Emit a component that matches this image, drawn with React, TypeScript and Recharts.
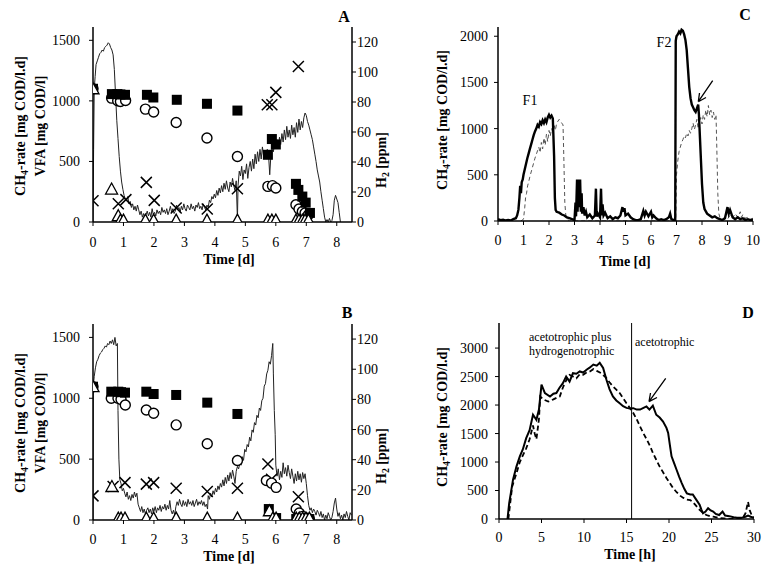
import { ComposedChart, Line, Scatter, XAxis, YAxis, ReferenceLine } from 'recharts';

type Pt = [number, number];

// ---- Panel A: CH4 rate (line), VFA markers, H2 crosses (right axis) ----
const aRate: Pt[] = [
  [0, 0], [0.02, 600], [0.04, 1100], [0.07, 1200], [0.1, 1300], [0.14, 1330], [0.18, 1360], [0.22, 1390],
  [0.26, 1400], [0.3, 1420], [0.34, 1410], [0.38, 1440], [0.42, 1450], [0.46, 1460], [0.5, 1480], [0.54, 1470],
  [0.58, 1440], [0.62, 1420], [0.66, 1380], [0.7, 1260], [0.74, 1050], [0.78, 840], [0.82, 690], [0.86, 540],
  [0.9, 420], [0.94, 330], [0.98, 270], [1.02, 220], [1.06, 190], [1.1, 180], [1.14, 210], [1.18, 150],
  [1.22, 170], [1.26, 120], [1.3, 150], [1.34, 100], [1.38, 130], [1.42, 90], [1.46, 140], [1.5, 100],
  [1.54, 60], [1.58, 90], [1.62, 40], [1.66, 70], [1.7, 30], [1.74, 60], [1.78, 90], [1.82, 50],
  [1.86, 80], [1.9, 40], [1.94, 110], [1.98, 60], [2.02, 80], [2.06, 50], [2.1, 100], [2.14, 70],
  [2.18, 90], [2.22, 60], [2.26, 120], [2.3, 80], [2.34, 100], [2.38, 70], [2.42, 110], [2.46, 60],
  [2.5, 90], [2.54, 130], [2.58, 80], [2.62, 110], [2.66, 70], [2.7, 90], [2.74, 140], [2.78, 100],
  [2.82, 120], [2.86, 80], [2.9, 130], [2.94, 100], [2.98, 150], [3.02, 110], [3.06, 90], [3.1, 140],
  [3.14, 120], [3.18, 100], [3.22, 150], [3.26, 110], [3.3, 130], [3.34, 90], [3.38, 140], [3.42, 120],
  [3.46, 160], [3.5, 110], [3.54, 130], [3.58, 100], [3.62, 150], [3.66, 120], [3.7, 100], [3.74, 140],
  [3.78, 120], [3.82, 180], [3.86, 160], [3.9, 210], [3.94, 190], [3.98, 230], [4.02, 200], [4.06, 260],
  [4.1, 220], [4.14, 280], [4.18, 240], [4.22, 300], [4.26, 250], [4.3, 320], [4.34, 270], [4.38, 340],
  [4.42, 280], [4.46, 250], [4.5, 330], [4.54, 290], [4.58, 360], [4.62, 300], [4.66, 260], [4.7, 340],
  [4.74, 20], [4.76, 300], [4.8, 420], [4.84, 380], [4.88, 460], [4.92, 350], [4.96, 430], [5.0, 400],
  [5.04, 480], [5.08, 360], [5.12, 450], [5.16, 500], [5.2, 420], [5.24, 520], [5.28, 440], [5.32, 560],
  [5.36, 480], [5.4, 580], [5.44, 500], [5.48, 600], [5.52, 520], [5.56, 620], [5.6, 540], [5.64, 590],
  [5.68, 520], [5.72, 600], [5.76, 560], [5.8, 390], [5.84, 560], [5.88, 620], [5.92, 580], [5.96, 650],
  [6.0, 610], [6.04, 680], [6.08, 620], [6.12, 700], [6.16, 640], [6.2, 730], [6.24, 660], [6.28, 760],
  [6.32, 680], [6.36, 790], [6.4, 700], [6.44, 760], [6.48, 690], [6.52, 800], [6.56, 720], [6.6, 780],
  [6.64, 700], [6.68, 820], [6.72, 740], [6.76, 850], [6.8, 760], [6.84, 830], [6.88, 780], [6.92, 860],
  [6.96, 900], [7.0, 880], [7.04, 830], [7.08, 800], [7.12, 760], [7.16, 720], [7.2, 680], [7.24, 620],
  [7.28, 560], [7.32, 500], [7.36, 430], [7.4, 380], [7.44, 330], [7.48, 250], [7.52, 180], [7.56, 110],
  [7.6, 40], [7.64, 0], [7.68, 20], [7.72, 0], [7.76, 30], [7.8, 0], [7.84, 10], [7.88, 60],
  [7.92, 180], [7.96, 220], [8.0, 190], [8.04, 160], [8.08, 80], [8.12, 0],
];
const aSquares: Pt[] = [
  [0, 1100], [0.62, 1056], [0.8, 1056], [0.9, 1053], [1.05, 1050], [1.77, 1050], [1.98, 1028], [2.75, 1009],
  [3.74, 976], [4.74, 920], [5.74, 555], [5.87, 685], [6.0, 640], [6.66, 315], [6.74, 265], [6.87, 210],
  [6.98, 160], [7.12, 75],
];
const aCircles: Pt[] = [
  [0, 1100], [0.61, 1023], [0.81, 1001], [0.9, 995], [1.07, 1003], [1.72, 932], [1.99, 908], [2.73, 822],
  [3.74, 693], [4.74, 541], [5.74, 294], [5.89, 300], [6.0, 281], [6.66, 143], [6.76, 107], [6.87, 87],
  [6.96, 74], [7.07, 60],
];
const aTriangles: Pt[] = [
  [0, 1100], [0.61, 272], [0.83, 52], [0.9, 15], [1.0, 15], [1.72, 15], [1.99, 15], [2.73, 15], [3.74, 15],
  [4.74, 15], [5.74, 15], [5.87, 15], [6.0, 15], [6.66, 15], [6.76, 15], [6.87, 15], [6.96, 15], [7.07, 15],
];
const aH2: Pt[] = [
  [0, 14.2], [0.83, 12.2], [1.08, 14.9], [1.75, 26.4], [2.01, 14.4], [2.73, 9.3], [3.75, 8.7], [4.74, 22.2],
  [5.72, 78.2], [5.87, 78.2], [6.0, 86.4], [6.74, 103.7],
];

// ---- Panel B ----
const bRate: Pt[] = [
  [0, 0], [0.01, 1100], [0.04, 1180], [0.08, 1250], [0.12, 1300], [0.16, 1320], [0.2, 1350], [0.24, 1370],
  [0.28, 1380], [0.32, 1400], [0.36, 1410], [0.4, 1430], [0.44, 1420], [0.48, 1450], [0.52, 1440], [0.56, 1470],
  [0.6, 1450], [0.64, 1480], [0.68, 1440], [0.72, 1500], [0.76, 1430], [0.8, 1450], [0.82, 900], [0.85, 500],
  [0.88, 330], [0.92, 300], [0.96, 240], [1.0, 260], [1.04, 220], [1.08, 190], [1.12, 230], [1.16, 170],
  [1.2, 200], [1.24, 160], [1.28, 210], [1.32, 180], [1.36, 230], [1.4, 190], [1.44, 220], [1.48, 130],
  [1.52, 100], [1.56, 70], [1.6, 110], [1.64, 60], [1.68, 90], [1.72, 50], [1.76, 80], [1.8, 100],
  [1.84, 60], [1.88, 90], [1.92, 50], [1.96, 100], [2.0, 70], [2.04, 110], [2.08, 60], [2.12, 100],
  [2.16, 80], [2.2, 120], [2.24, 70], [2.28, 110], [2.32, 90], [2.36, 130], [2.4, 80], [2.44, 120],
  [2.48, 90], [2.52, 160], [2.56, 80], [2.6, 50], [2.64, 80], [2.68, 40], [2.72, 110], [2.76, 150],
  [2.8, 120], [2.84, 170], [2.88, 130], [2.92, 110], [2.96, 160], [3.0, 120], [3.04, 150], [3.08, 110],
  [3.12, 170], [3.16, 130], [3.2, 150], [3.24, 120], [3.28, 160], [3.32, 110], [3.36, 140], [3.4, 170],
  [3.44, 120], [3.48, 150], [3.52, 130], [3.56, 160], [3.6, 120], [3.64, 150], [3.68, 110], [3.72, 130],
  [3.76, 90], [3.78, 200], [3.82, 170], [3.86, 220], [3.9, 190], [3.94, 240], [3.98, 210], [4.02, 260],
  [4.06, 230], [4.1, 280], [4.14, 250], [4.18, 300], [4.22, 270], [4.26, 330], [4.3, 280], [4.34, 350],
  [4.38, 300], [4.42, 370], [4.46, 320], [4.5, 390], [4.54, 340], [4.58, 410], [4.62, 360], [4.66, 300],
  [4.7, 400], [4.74, 440], [4.78, 420], [4.82, 470], [4.86, 450], [4.9, 520], [4.94, 490], [4.98, 580],
  [5.02, 560], [5.06, 620], [5.1, 600], [5.14, 680], [5.18, 650], [5.22, 740], [5.26, 720], [5.3, 800],
  [5.34, 780], [5.38, 860], [5.42, 840], [5.46, 920], [5.5, 900], [5.54, 980], [5.58, 1000], [5.62, 1100],
  [5.66, 1120], [5.7, 1200], [5.74, 1230], [5.78, 1300], [5.82, 1280], [5.86, 1350], [5.9, 1450], [5.92, 1200],
  [5.95, 900], [5.98, 700], [6.0, 450], [6.04, 360], [6.08, 420], [6.12, 330], [6.16, 400], [6.2, 350],
  [6.24, 470], [6.28, 380], [6.32, 430], [6.36, 360], [6.4, 450], [6.44, 390], [6.48, 340], [6.52, 420],
  [6.56, 360], [6.6, 300], [6.64, 380], [6.68, 320], [6.72, 400], [6.76, 330], [6.8, 380], [6.84, 310],
  [6.88, 390], [6.92, 340], [6.96, 380], [7.0, 300], [7.04, 200], [7.08, 120], [7.12, 80], [7.16, 100],
  [7.2, 60], [7.24, 90], [7.28, 70], [7.32, 40], [7.36, 80], [7.4, 60], [7.44, 30], [7.48, 70],
  [7.52, 20], [7.56, 50], [7.6, 0], [7.64, 40], [7.68, 10], [7.72, 60], [7.76, 30], [7.8, 0],
  [7.84, 20], [7.88, 70], [7.92, 140], [7.96, 180], [8.0, 90], [8.04, 30], [8.08, 60], [8.12, 10],
  [8.16, 40], [8.2, 0], [8.24, 50], [8.28, 20], [8.32, 70], [8.36, 30], [8.4, 0], [8.44, 60], [8.48, 40],
];
const bSquares: Pt[] = [
  [0, 1095], [0.6, 1054], [0.83, 1054], [0.92, 1050], [1.05, 1046], [1.75, 1054], [1.99, 1035], [2.73, 1027],
  [3.75, 964], [4.74, 871], [5.77, 90], [6.01, 16], [6.67, 8], [6.77, 8], [6.88, 8], [6.99, 8], [7.1, 8],
];
const bCircles: Pt[] = [
  [0, 1095], [0.6, 1000], [0.82, 1000], [0.92, 991], [1.06, 945], [1.75, 904], [1.99, 877], [2.73, 781],
  [3.75, 626], [4.74, 489], [5.69, 325], [5.86, 303], [6.01, 268], [6.67, 90], [6.77, 57], [6.88, 30],
  [6.99, 16], [7.1, 8],
];
const bTriangles: Pt[] = [
  [0, 1095], [0.62, 275], [0.83, 15], [0.92, 15], [1.05, 15], [1.75, 15], [1.99, 15], [2.73, 15], [3.75, 15],
  [4.74, 15], [5.79, 76], [5.9, 15], [6.01, 15], [6.67, 15], [6.77, 15], [6.88, 15], [6.99, 15], [7.1, 15],
];
const bH2: Pt[] = [
  [0, 16], [0.66, 22.2], [1.05, 24.8], [1.75, 23.8], [1.99, 24.8], [2.73, 21.1], [3.75, 18.9], [4.74, 21.1],
  [5.74, 37.2], [5.86, 27], [6.74, 15.4],
];

// ---- Panel C: two reactors, days ----
const cSolid: Pt[] = [
  [0, 20], [0.1, 10], [0.2, 15], [0.3, 5], [0.4, 10], [0.5, 5], [0.6, 20], [0.7, 30], [0.75, 60], [0.8, 120],
  [0.84, 250], [0.87, 380], [0.9, 300], [0.93, 420], [0.97, 450], [1.0, 500], [1.05, 560], [1.1, 620],
  [1.15, 680], [1.2, 730], [1.25, 780], [1.3, 830], [1.35, 880], [1.4, 930], [1.45, 970], [1.5, 1000],
  [1.55, 1040], [1.6, 1020], [1.65, 1070], [1.7, 1050], [1.75, 1090], [1.8, 1060], [1.85, 1100], [1.9, 1070],
  [1.95, 1120], [2.0, 1150], [2.05, 1120], [2.1, 1140], [2.15, 1110], [2.2, 700], [2.23, 250], [2.26, 120],
  [2.3, 100], [2.4, 90], [2.5, 70], [2.6, 60], [2.7, 40], [2.8, 30], [2.9, 20], [3.0, 10], [3.04, 200],
  [3.06, 50], [3.1, 450], [3.12, 100], [3.16, 450], [3.18, 150], [3.22, 450], [3.25, 100], [3.28, 300],
  [3.3, 80], [3.35, 150], [3.4, 60], [3.45, 100], [3.5, 40], [3.6, 70], [3.7, 30], [3.8, 60], [3.84, 350],
  [3.87, 50], [3.92, 80], [4.0, 40], [4.04, 350], [4.07, 60], [4.1, 180], [4.14, 60], [4.2, 90], [4.3, 30],
  [4.4, 50], [4.5, 20], [4.6, 40], [4.7, 30], [4.8, 60], [4.88, 150], [4.92, 100], [4.96, 140], [5.0, 60],
  [5.1, 80], [5.2, 40], [5.3, 20], [5.4, 10], [5.5, 10], [5.6, 20], [5.7, 110], [5.75, 60], [5.8, 100],
  [5.9, 50], [6.0, 100], [6.05, 40], [6.1, 60], [6.2, 30], [6.3, 10], [6.4, 20], [6.5, 10], [6.6, 20],
  [6.7, 40], [6.75, 80], [6.8, 20], [6.9, 10], [6.95, 5], [6.97, 1950], [7.0, 2000], [7.05, 2020],
  [7.1, 2050], [7.15, 2030], [7.2, 2070], [7.25, 2060], [7.3, 2020], [7.35, 1960], [7.4, 1850], [7.45, 1650],
  [7.5, 1450], [7.55, 1330], [7.6, 1260], [7.65, 1230], [7.7, 1200], [7.75, 1180], [7.8, 1220], [7.85, 1260],
  [7.88, 1150], [7.92, 900], [7.96, 650], [8.0, 400], [8.05, 200], [8.1, 130], [8.2, 80], [8.3, 60],
  [8.4, 40], [8.5, 50], [8.6, 30], [8.7, 20], [8.8, 10], [8.9, 30], [9.0, 150], [9.05, 80], [9.1, 120],
  [9.2, 40], [9.3, 20], [9.4, 40], [9.5, 20], [9.6, 30], [9.7, 10], [9.8, 20], [9.9, 10], [10.0, 15],
];
const cDashed: Pt[] = [
  [0.9, 0], [1.0, 20], [1.05, 150], [1.08, 250], [1.12, 300], [1.16, 380], [1.2, 420], [1.25, 480],
  [1.3, 530], [1.35, 580], [1.4, 630], [1.45, 680], [1.5, 720], [1.55, 760], [1.6, 800], [1.65, 740],
  [1.7, 850], [1.75, 780], [1.8, 900], [1.85, 820], [1.9, 940], [1.95, 860], [2.0, 980], [2.05, 920],
  [2.1, 1000], [2.15, 950], [2.2, 1040], [2.25, 980], [2.3, 1060], [2.35, 1080], [2.4, 1100], [2.45, 1080],
  [2.5, 1060], [2.55, 1040], [2.58, 700], [2.62, 200], [2.66, 60], [2.72, 20], [2.8, 0], [6.97, 0],
  [7.0, 500], [7.05, 650], [7.1, 750], [7.15, 800], [7.2, 850], [7.25, 880], [7.3, 920], [7.35, 900],
  [7.4, 950], [7.45, 920], [7.5, 980], [7.55, 950], [7.6, 1000], [7.65, 1060], [7.7, 990], [7.75, 1040],
  [7.8, 1100], [7.85, 1000], [7.9, 1080], [7.95, 1120], [8.0, 1050], [8.05, 1150], [8.1, 1100], [8.15, 1200],
  [8.2, 1130], [8.25, 1250], [8.3, 1150], [8.35, 1200], [8.4, 1120], [8.45, 1180], [8.5, 1100], [8.55, 1150],
  [8.58, 800], [8.62, 300], [8.66, 80], [8.7, 40], [8.8, 20], [8.9, 40], [9.0, 20], [9.1, 60], [9.2, 30],
  [9.3, 80], [9.4, 40], [9.5, 100], [9.55, 40], [9.6, 70], [9.7, 30], [9.8, 40], [9.9, 20], [10.0, 30],
];

// ---- Panel D: hours ----
const dSolid: Pt[] = [
  [0.9, 0], [1.0, 0], [1.2, 280], [1.65, 690], [2.05, 920], [2.45, 1100], [2.8, 1220], [3.2, 1420],
  [3.6, 1560], [4.0, 1830], [4.4, 1740], [4.7, 1920], [5.0, 2360], [5.4, 2210], [6.0, 2150], [6.4, 2200],
  [6.75, 2210], [7.1, 2300], [7.5, 2380], [7.9, 2500], [8.3, 2410], [8.7, 2560], [9.1, 2550], [9.5, 2590],
  [9.9, 2570], [10.3, 2620], [10.7, 2660], [11.1, 2710], [11.5, 2690], [11.85, 2740], [12.25, 2650],
  [12.65, 2440], [13.0, 2280], [13.4, 2150], [13.8, 2080], [14.2, 2030], [14.6, 1980], [15.0, 1950],
  [15.4, 1940], [15.8, 1945], [16.2, 1920], [16.6, 1920], [17.0, 1950], [17.35, 1975], [17.7, 1920],
  [18.1, 1990], [18.5, 1830], [18.9, 1780], [19.3, 1710], [19.7, 1600], [19.9, 1510], [20.1, 1300],
  [20.3, 1100], [20.6, 980], [20.9, 860], [21.2, 740], [21.5, 630], [21.8, 530], [22.1, 450], [22.5, 430],
  [22.8, 430], [23.2, 340], [23.6, 250], [23.8, 170], [24.0, 100], [24.3, 130], [24.6, 190], [24.9, 150],
  [25.2, 130], [25.5, 90], [25.9, 70], [26.3, 130], [26.6, 60], [27.1, 50], [27.6, 30], [28.0, 20],
  [28.5, 20], [29.0, 40], [29.3, 60], [29.6, 40], [30.0, 20],
];
const dDashed: Pt[] = [
  [1.1, 0], [1.55, 570], [2.05, 800], [2.45, 1000], [2.85, 1130], [3.2, 1240], [3.6, 1400], [4.0, 1640],
  [4.2, 1500], [4.4, 1400], [4.7, 1750], [4.85, 2150], [5.2, 2100], [5.8, 2060], [6.4, 2100], [6.8, 2130],
  [7.15, 2150], [7.5, 2300], [7.75, 2390], [8.3, 2530], [8.7, 2500], [9.1, 2470], [9.5, 2540], [9.9, 2530],
  [10.3, 2570], [10.7, 2590], [11.1, 2630], [11.5, 2600], [12.0, 2560], [12.6, 2480], [13.0, 2400],
  [13.4, 2330], [13.8, 2270], [14.2, 2210], [14.6, 2120], [15.0, 2030], [15.4, 1950], [15.8, 1860],
  [16.2, 1750], [16.6, 1620], [17.0, 1500], [17.4, 1390], [17.8, 1270], [18.1, 1160], [18.5, 1040],
  [18.9, 920], [19.3, 820], [19.7, 720], [20.1, 630], [20.5, 540], [20.9, 470], [21.3, 410], [21.7, 370],
  [22.1, 340], [22.5, 330], [22.8, 300], [23.2, 230], [23.6, 160], [24.0, 110], [24.4, 70], [24.8, 50],
  [25.2, 40], [25.8, 20], [26.5, 10], [27.2, 0], [28.0, 0], [28.6, 0], [29.0, 100], [29.3, 300],
  [29.5, 150], [29.8, 40], [30.0, 20],
];

const dayTicksAB = [0, 1, 2, 3, 4, 5, 6, 7, 8];
const rateTicksAB = [0, 500, 1000, 1500];
const h2Ticks = [0, 20, 40, 60, 80, 100, 120];
const dayTicksC = [0, 1, 2, 3, 4, 5, 6, 7, 8, 9, 10];
const rateTicksC = [0, 500, 1000, 1500, 2000];
const hourTicksD = [0, 5, 10, 15, 20, 25, 30];
const rateTicksD = [0, 500, 1000, 1500, 2000, 2500, 3000];
const phaseSplitHour = 15.6;

const serif = '"Liberation Serif", "Times New Roman", serif';
const tickStyle = { fontSize: 14, fill: '#000', fontFamily: serif };
const frame = { stroke: '#000', strokeWidth: 1.5 };
const tickLn = { stroke: '#000', strokeWidth: 1 };
const toXY = (a: Pt[]) => a.map(([x, y]) => ({ x, y }));

const Square = (p: any) => <rect x={p.cx - 5} y={p.cy - 5} width={10} height={10} fill="#000" />;
const Ring = (p: any) => <circle cx={p.cx} cy={p.cy} r={5} fill="#fff" stroke="#000" strokeWidth={1.4} />;
const Tri = (p: any) => (
  <path d={`M${p.cx},${p.cy - 6}L${p.cx + 6},${p.cy + 5}L${p.cx - 6},${p.cy + 5}Z`} fill="#fff" stroke="#000" strokeWidth={1.3} />
);
const Cross = (p: any) => (
  <path
    d={`M${p.cx - 5.5},${p.cy - 5.5}L${p.cx + 5.5},${p.cy + 5.5}M${p.cx - 5.5},${p.cy + 5.5}L${p.cx + 5.5},${p.cy - 5.5}`}
    stroke="#000"
    strokeWidth={1.5}
  />
);

function VfaPanel(props: {
  top: number; marginTop: number; plotH: number; xAxisH: number; xTickMargin: number;
  rate: Pt[]; squares: Pt[]; circles: Pt[]; triangles: Pt[]; h2: Pt[];
}) {
  const { top, marginTop, plotH, xAxisH, xTickMargin } = props;
  return (
    <div style={{ position: 'absolute', left: 0, top }}>
      <ComposedChart width={390} height={marginTop + plotH + xAxisH} margin={{ top: marginTop, right: 0, bottom: 0, left: 0 }}>
        <XAxis type="number" dataKey="x" domain={[0, 8.5]} ticks={dayTicksAB} height={xAxisH} tick={tickStyle}
          axisLine={frame} tickLine={tickLn} tickSize={4} tickMargin={xTickMargin} allowDataOverflow />
        <XAxis xAxisId="top" orientation="top" type="number" domain={[0, 8.5]} height={0} tick={false} tickLine={false} axisLine={frame} />
        <YAxis yAxisId="l" type="number" dataKey="y" domain={[0, 1610]} ticks={rateTicksAB} width={93} tick={tickStyle}
          axisLine={frame} tickLine={tickLn} tickSize={4} tickMargin={9} allowDataOverflow />
        <YAxis yAxisId="r" orientation="right" type="number" dataKey="y" domain={[0, 130]} ticks={h2Ticks} width={38}
          tick={tickStyle} axisLine={frame} tickLine={tickLn} tickSize={4} tickMargin={1} allowDataOverflow />
        <Line yAxisId="l" data={toXY(props.rate)} dataKey="y" type="linear" dot={false} stroke="#222" strokeWidth={1} isAnimationActive={false} />
        <Scatter yAxisId="r" data={toXY(props.h2)} shape={Cross} isAnimationActive={false} />
        <Scatter yAxisId="l" data={toXY(props.circles)} shape={Ring} isAnimationActive={false} />
        <Scatter yAxisId="l" data={toXY(props.squares)} shape={Square} isAnimationActive={false} />
        <Scatter yAxisId="l" data={toXY(props.triangles)} shape={Tri} isAnimationActive={false} />
      </ComposedChart>
    </div>
  );
}

function Sub({ x, y, main, sub, rest, size = 14, bold = true }: any) {
  return (
    <text x={x} y={y} transform={`rotate(-90 ${x} ${y})`} textAnchor="middle" dominantBaseline="central"
      fontSize={size} fontWeight={bold ? 'bold' : 'normal'} fontFamily={serif} fill="#000">
      {main}<tspan fontSize={size * 0.7} dy={4}>{sub}</tspan><tspan dy={-4}>{rest}</tspan>
    </text>
  );
}

export default function App() {
  return (
    <div style={{ position: 'absolute', left: 0, top: 0, width: 773, height: 571, background: '#fff', fontFamily: serif }}>
      <VfaPanel top={0} marginTop={27} plotH={195} xAxisH={68} xTickMargin={11}
        rate={aRate} squares={aSquares} circles={aCircles} triangles={aTriangles} h2={aH2} />
      <VfaPanel top={290} marginTop={34} plotH={196} xAxisH={51} xTickMargin={10}
        rate={bRate} squares={bSquares} circles={bCircles} triangles={bTriangles} h2={bH2} />

      <div style={{ position: 'absolute', left: 420, top: 0 }}>
        <ComposedChart width={353} height={290} margin={{ top: 27, right: 20, bottom: 0, left: 0 }}>
          <XAxis type="number" dataKey="x" domain={[0, 10]} ticks={dayTicksC} height={69} tick={tickStyle}
            axisLine={frame} tickLine={tickLn} tickSize={4} tickMargin={10} allowDataOverflow />
          <XAxis xAxisId="top" orientation="top" type="number" domain={[0, 10]} height={0} tick={false} tickLine={false} axisLine={frame} />
          <YAxis type="number" dataKey="y" domain={[0, 2100]} ticks={rateTicksC} width={78} tick={tickStyle}
            axisLine={frame} tickLine={tickLn} tickSize={4} tickMargin={6} allowDataOverflow />
          <YAxis yAxisId="r" orientation="right" type="number" domain={[0, 2100]} width={0} tick={false} tickLine={false} axisLine={frame} />
          <Line data={toXY(cDashed)} dataKey="y" type="linear" dot={false} stroke="#555" strokeWidth={1} strokeDasharray="4 3" isAnimationActive={false} />
          <Line data={toXY(cSolid)} dataKey="y" type="linear" dot={false} stroke="#000" strokeWidth={2.4} isAnimationActive={false} />
        </ComposedChart>
      </div>

      <div style={{ position: 'absolute', left: 420, top: 290 }}>
        <ComposedChart width={353} height={281} margin={{ top: 33, right: 19, bottom: 0, left: 0 }}>
          <XAxis type="number" dataKey="x" domain={[0, 30]} ticks={hourTicksD} height={52} tick={tickStyle}
            axisLine={frame} tickLine={tickLn} tickSize={4} tickMargin={9} allowDataOverflow />
          <XAxis xAxisId="top" orientation="top" type="number" domain={[0, 30]} height={0} tick={false} tickLine={false} axisLine={frame} />
          <YAxis type="number" dataKey="y" domain={[0, 3440]} ticks={rateTicksD} width={79} tick={tickStyle}
            axisLine={frame} tickLine={tickLn} tickSize={4} tickMargin={7} allowDataOverflow />
          <YAxis yAxisId="r" orientation="right" type="number" domain={[0, 3440]} width={0} tick={false} tickLine={false} axisLine={frame} />
          <ReferenceLine x={phaseSplitHour} stroke="#000" strokeWidth={1} />
          <Line data={toXY(dDashed)} dataKey="y" type="linear" dot={false} stroke="#000" strokeWidth={1.8} strokeDasharray="5 3" isAnimationActive={false} />
          <Line data={toXY(dSolid)} dataKey="y" type="linear" dot={false} stroke="#000" strokeWidth={2} isAnimationActive={false} />
        </ComposedChart>
      </div>

      <svg width={773} height={571} style={{ position: 'absolute', left: 0, top: 0, pointerEvents: 'none' }}>
        <g fontFamily={serif} fill="#000">
          <text x={344} y={22} fontSize={16} fontWeight="bold" textAnchor="middle">A</text>
          <text x={347} y={318} fontSize={16} fontWeight="bold" textAnchor="middle">B</text>
          <text x={745} y={20} fontSize={16} fontWeight="bold" textAnchor="middle">C</text>
          <text x={748} y={318} fontSize={16} fontWeight="bold" textAnchor="middle">D</text>

          <text x={229} y={264} fontSize={14} fontWeight="bold" textAnchor="middle">Time [d]</text>
          <text x={229} y={561} fontSize={14} fontWeight="bold" textAnchor="middle">Time [d]</text>
          <text x={625} y={266} fontSize={14} fontWeight="bold" textAnchor="middle">Time [d]</text>
          <text x={630} y={559} fontSize={14} fontWeight="bold" textAnchor="middle">Time [h]</text>

          <text x={530} y={105} fontSize={14} textAnchor="middle">F1</text>
          <text x={664} y={47} fontSize={14} textAnchor="middle">F2</text>

          <text x={529} y={341} fontSize={12}>acetotrophic plus</text>
          <text x={529} y={355} fontSize={12}>hydrogenotrophic</text>
          <text x={635} y={346} fontSize={12}>acetotrophic</text>
        </g>
        <Sub x={20} y={126} main="CH" sub="4" rest="-rate [mg COD/l.d]" />
        <text x={40} y={126} transform="rotate(-90 40 126)" textAnchor="middle" dominantBaseline="central" fontSize={14} fontWeight="bold" fontFamily={serif}>VFA [mg COD/l]</text>
        <Sub x={20} y={423} main="CH" sub="4" rest="-rate [mg COD/l.d]" />
        <text x={40} y={423} transform="rotate(-90 40 423)" textAnchor="middle" dominantBaseline="central" fontSize={14} fontWeight="bold" fontFamily={serif}>VFA [mg COD/l]</text>
        <Sub x={442} y={120} main="CH" sub="4" rest="-rate [mg COD/l.d]" />
        <Sub x={442} y={417} main="CH" sub="4" rest="-rate [mg COD/l.d]" />
        <Sub x={381} y={160} main="H" sub="2" rest=" [ppm]" />
        <Sub x={381} y={456} main="H" sub="2" rest=" [ppm]" />

        <g stroke="#000" strokeWidth={1.3} fill="none">
          <path d="M712.7,80.7L698.3,101.7M698.3,101.7L699.5,93M698.3,101.7L706,97.5" />
          <path d="M665.7,378.3L649,401.7M649,401.7L650.5,393M649,401.7L657,397.5" />
        </g>
      </svg>
    </div>
  );
}
